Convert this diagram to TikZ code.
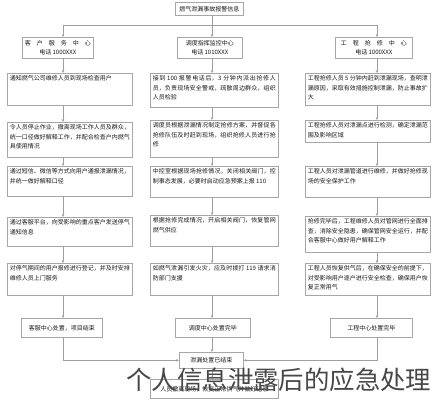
\documentclass[tikz,border=0pt]{standalone}
\usepackage{fontspec}
\setmainfont{Noto Sans CJK SC}
\XeTeXlinebreaklocale "zh"
\XeTeXlinebreakskip = 0pt plus 1pt
\usetikzlibrary{arrows.meta}
\tikzset{
    x=1pt, y=-1pt, % pixel units, y grows downwards
    wire/.style={draw=gray!75, line width=0.6pt}, % plain connector
    flow/.style={wire, -{Stealth[length=3pt, width=2.6pt]}}, % connector with arrow head
    cell/.style={draw=gray!70, line width=0.6pt, inner sep=2.5pt, anchor=north west,
        font=\fontsize{6}{9.5}\selectfont, text=black!90}, % every box of the chart
    head/.style={cell, align=center, inner sep=1.5pt}, % centred one or two line boxes
    caption/.style={font=\fontsize{25.4}{26}\selectfont, text=black!72},
}
\newcommand{\cellbox}[3]{\parbox[c][#2][t]{#1}{#3}}

\begin{document}
\begin{tikzpicture}
    \useasboundingbox[fill=white] (0,0) rectangle (434,400);

    \coordinate (colL) at (63,0);
    \coordinate (colC) at (212,0);
    \coordinate (colR) at (377,0);
    \coordinate (busL) at (63,25);
    \coordinate (busR) at (377,25);

    % top of the chart
    \node[head, minimum width=68pt, minimum height=13pt] (top) at (175,2) {燃气泄漏事故报警信息};
    \node[head, minimum width=71pt, minimum height=21pt] (Lh) at (22,37) {客\quad 户\quad 服\quad 务\quad 中\quad 心\\电话 1000XXX};
    \node[head, minimum width=65pt, minimum height=21pt] (Ch) at (177,37) {调度指挥监控中心\\电话 1010XXX};
    \node[head, minimum width=77pt, minimum height=21pt] (Rh) at (335,37) {工\quad 程\quad 抢\quad 修\quad 中\quad 心\\电话 1000XXX};

    % left column
    \node[cell] (L1) at (7,73) {\cellbox{120pt}{27pt}{通知燃气公司维修人员到现场检查用户}};
    \node[cell] (L2) at (7,122) {\cellbox{120pt}{30pt}{令人员停止作业，撤离现场工作人员及群众，统一口径做好解释工作，并配合检查户内燃气具使用情况}};
    \node[cell] (L3) at (7,166) {\cellbox{120pt}{25pt}{通过短信、微信等方式向用户通报泄漏情况，并统一做好解释口径}};
    \node[cell] (L4) at (7,217) {\cellbox{120pt}{24pt}{通过客服平台，向受影响的重点客户发送停气通知信息}};
    \node[cell] (L5) at (7,263) {\cellbox{120pt}{27pt}{对停气期间的用户报修进行登记，并及时安排维修人员上门服务}};
    \node[head, minimum width=81pt, minimum height=19pt] (Lb) at (21,318) {客服中心处置，项目结束};

    % centre column
    \node[cell] (C1) at (150,73) {\cellbox{123pt}{29pt}{接到 100 报警电话后，3 分钟内派出抢修人员，负责现场安全警戒，疏散周边群众，组织人员检验}};
    \node[cell] (C2) at (150,120) {\cellbox{123pt}{32pt}{调度员根据泄漏情况制定抢修方案，并督促各抢修队伍及时赶到现场，组织抢修人员进行抢修}};
    \node[cell] (C3) at (150,166) {\cellbox{123pt}{26pt}{中控室根据现场抢修情况，关闭相关阀门，控制事态发展，必要时启动应急预案上报 110}};
    \node[cell] (C4) at (150,215) {\cellbox{123pt}{26pt}{根据抢修完成情况，开启相关阀门，恢复管网燃气供应}};
    \node[cell] (C5) at (150,263) {\cellbox{123pt}{27pt}{如燃气泄漏引发火灾，应及时拨打 119 请求消防部门支援}};
    \node[head, minimum width=75pt, minimum height=19pt] (Cb) at (175,318) {调度中心处置完毕};

    % right column
    \node[cell] (R1) at (305,73) {\cellbox{120pt}{27pt}{工程抢修人员 5 分钟内赶到泄漏现场，查明泄漏原因，采取有效措施控制泄漏，防止事故扩大}};
    \node[cell] (R2) at (305,120) {\cellbox{120pt}{17pt}{工程抢修人员对泄漏点进行检测，确定泄漏范围及影响区域}};
    \node[cell] (R3) at (305,166) {\cellbox{120pt}{26pt}{工程人员对泄漏管道进行维修，并做好抢修现场的安全保护工作}};
    \node[cell] (R4) at (305,216) {\cellbox{120pt}{31pt}{抢修完毕后，工程维修人员对管网进行全面排查，消除安全隐患，确保管网安全运行，并配合客服中心做好用户解释工作}};
    \node[cell] (R5) at (305,263) {\cellbox{120pt}{27pt}{工程人员恢复供气后，在确保安全的前提下，对受影响用户逐户进行安全检查，确保用户恢复正常用气}};
    \node[head, minimum width=82pt, minimum height=19pt] (Rb) at (330,318) {工程中心处置完毕};

    % end of the chart
    \node[head, minimum width=64pt, minimum height=16pt] (fin) at (179,352) {泄漏处置已结束};
    \node[head, minimum width=128pt, minimum height=19pt] (last) at (150,379) {人员撤离现场，恢复正常供气并做好记录};

    % connectors
    \draw[flow] (top.south -| colC) -- (Ch.north -| colC);
    \draw[wire] (busL) -- (busR);
    \draw[flow] (busL) -- (Lh.north -| busL);
    \draw[flow] (busR) -- (Rh.north -| busR);
    \foreach \c in {L,C,R}{
        \foreach \a/\b in {h/1, 1/2, 2/3, 3/4, 4/5, 5/b}
            \draw[flow] (\c\a.south -| col\c) -- (\c\b.north -| col\c);
    }
    \draw[flow] (Lb.south -| colL) |- (fin.west);
    \draw[flow] (Rb.south -| colR) |- (fin.east);
    \draw[flow] (Cb.south -| colC) -- (fin.north -| colC);
    \draw[flow] (fin.south -| colC) -- (last.north -| colC);

    \node[caption, anchor=base west] (title) at (123,389) {个人信息泄露后的应急处理};
\end{tikzpicture}
\end{document}
